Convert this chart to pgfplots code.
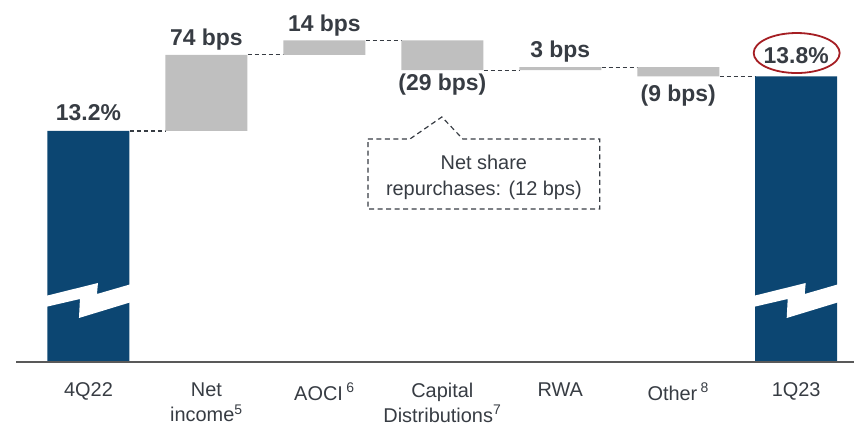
\documentclass[border=0pt]{standalone}
\usepackage{fontspec}
\setmainfont{Liberation Sans}
\usepackage{pgfplots}
\pgfplotsset{compat=1.18}
\definecolor{navy}{RGB}{12,70,114}
\definecolor{bargray}{RGB}{191,191,191}
\definecolor{txt}{RGB}{55,60,67}
\definecolor{circred}{RGB}{165,30,35}

\begin{document}
\begin{tikzpicture}
\begin{axis}[
    width=854bp, height=362bp, scale only axis,
    xmin=-0.75, xmax=6.49,
    ymin=11.007, ymax=14.522,
    ybar stacked, bar width=82bp,
    axis x line=bottom, axis y line=none,
    x axis line style={draw=none},
    xtick={0,1,2,3,4,5,6},
    xticklabels={4Q22, Net\\income\textsuperscript{5}, AOCI\,\textsuperscript{6},
      Capital\\Distributions\textsuperscript{7}, RWA, Other\,\textsuperscript{8}, 1Q23},
    major tick length=0,
    xticklabel style={font=\fontsize{20}{25}\selectfont, text=txt, align=center,
      anchor=north, yshift=-19bp, inner sep=2bp, outer sep=0pt},
]
% invisible base of each floating bar
\addplot[draw=none, fill=none] coordinates {(0,0) (1,13.25) (2,13.99) (3,13.84) (4,13.84) (5,13.78) (6,0)};
% change in bps, as ratio points
\addplot[draw=none, fill=bargray] coordinates {(0,0) (1,0.74) (2,0.14) (3,0.29) (4,0.03) (5,0.09) (6,0)};
% CET1 ratio totals
\addplot[draw=none, fill=navy] coordinates {(0,13.25) (1,0) (2,0) (3,0) (4,0) (5,0) (6,13.78)};

\coordinate (brkA) at (axis cs:0,11.007);
\coordinate (brkB) at (axis cs:6,11.007);
\coordinate (lineL) at (axis cs:-0.614,11.007);
\coordinate (lineR) at (axis cs:6.49,11.007);

% connectors
\draw[txt, line width=1.2bp, dash pattern=on 4bp off 3bp] (axis cs:0.35,13.25) -- (axis cs:0.65,13.25);
\draw[txt, line width=1.2bp, dash pattern=on 4bp off 3bp] (axis cs:1.35,13.99) -- (axis cs:1.65,13.99);
\draw[txt, line width=1.2bp, dash pattern=on 4bp off 3bp] (axis cs:2.35,14.13) -- (axis cs:2.65,14.13);
\draw[txt, line width=1.2bp, dash pattern=on 4bp off 3bp] (axis cs:3.35,13.84) -- (axis cs:3.65,13.84);
\draw[txt, line width=1.2bp, dash pattern=on 4bp off 3bp] (axis cs:4.35,13.87) -- (axis cs:4.65,13.87);
\draw[txt, line width=1.2bp, dash pattern=on 4bp off 3bp] (axis cs:5.35,13.78) -- (axis cs:5.65,13.78);

% value labels
\node[font=\bfseries\fontsize{23}{27}\selectfont, text=txt] at (axis cs:0,13.25) [yshift=18.5bp] {13.2\%};
\node[font=\bfseries\fontsize{23}{27}\selectfont, text=txt] at (axis cs:1,13.99) [yshift=15bp] {74 bps};
\node[font=\bfseries\fontsize{23}{27}\selectfont, text=txt] at (axis cs:2,14.13) [yshift=14.5bp] {14 bps};
\node[font=\bfseries\fontsize{23}{27}\selectfont, text=txt] at (axis cs:3,13.84) [yshift=-14.5bp] {(29 bps)};
\node[font=\bfseries\fontsize{23}{27}\selectfont, text=txt] at (axis cs:4,13.87) [yshift=16bp] {3 bps};
\node[font=\bfseries\fontsize{23}{27}\selectfont, text=txt] at (axis cs:5,13.78) [yshift=-19bp] {(9 bps)};
\node[font=\bfseries\fontsize{23}{27}\selectfont, text=txt] at (axis cs:6,13.78) [yshift=21bp] {13.8\%};
\draw[circred, line width=1.8bp] (axis cs:6.004,14.007) ellipse [x radius=43bp, y radius=20bp];

% callout
\draw[txt, line width=1.2bp, dash pattern=on 5bp off 3.5bp]
  (axis cs:2.369,13.172) -- (axis cs:2.725,13.172) -- (axis cs:2.996,13.386)
  -- (axis cs:3.174,13.172) -- (axis cs:4.335,13.172) -- (axis cs:4.335,12.492)
  -- (axis cs:2.369,12.492) -- cycle;
\node[font=\fontsize{20}{27}\selectfont, text=txt, align=center]
  at (axis cs:3.352,12.80) {Net share\\repurchases: (12 bps)};
\end{axis}
% axis break marks on the two total bars
\foreach \c in {brkA, brkB} {
  \fill[white, shift={(\c)}]
    (-43bp,66bp) -- (9.5bp,79bp) -- (8.5bp,68bp) -- (43bp,78bp) --
    (43bp,60bp) -- (-9.5bp,44bp) -- (-8.5bp,63bp) -- (-43bp,55bp) -- cycle;
}
\draw[black!65, line width=1.8bp] (lineL) -- (lineR);
\pgfresetboundingbox
\path (current axis.south west) ++(0,-63bp) rectangle (current axis.north east);
\end{tikzpicture}
\end{document}
